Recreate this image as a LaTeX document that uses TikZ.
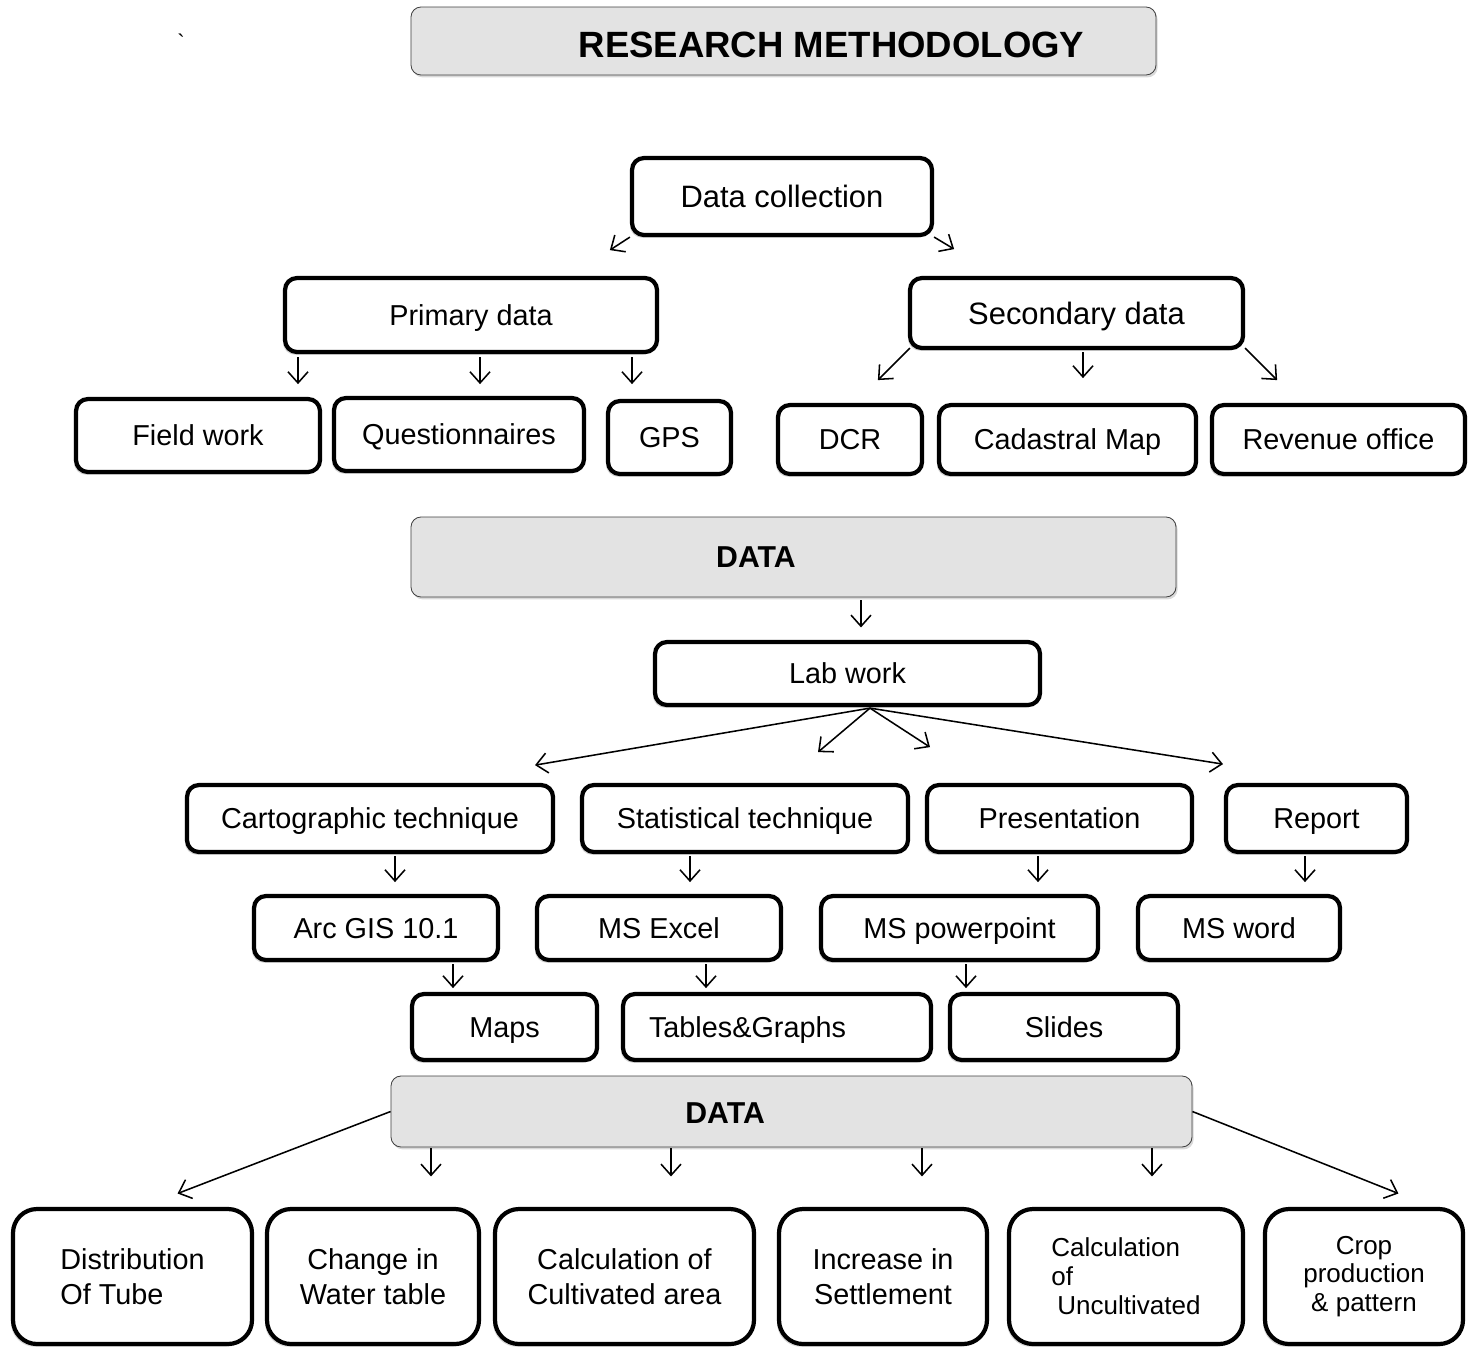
\documentclass[tikz,border=0pt]{standalone}
\usepackage{fontspec}
\setmainfont{Liberation Sans}
\usetikzlibrary{arrows.meta,positioning,calc,shadows}
\tikzset{
  alap/.style={draw,line width=3pt,rounded corners=3mm,fill=white,align=center,inner sep=0pt,
               font=\fontsize{20.5}{25}\selectfont,
               drop shadow={shadow xshift=-0.5mm,shadow yshift=-0.7mm,opacity=0.3}},
  doboz/.style={alap,text height=14.7pt,text depth=0pt},
  szurke/.style={draw=black!75,line width=0.6pt,rounded corners=2.5mm,fill=black!11,inner sep=0pt,
                 drop shadow={shadow xshift=0.4mm,shadow yshift=-0.6mm,opacity=0.3}},
  also/.style={alap,rounded corners=6mm,minimum width=#1,minimum height=33.75mm},
  felirat/.style={font=\bfseries\fontsize{21.5}{26}\selectfont},
  kisbetu/.style={font=\fontsize{18.5}{20.5}\selectfont},
  nyil/.style={-{Straight Barb[length=2.8mm,width=5mm]},line width=1.1pt},
}
\begin{document}
\begin{tikzpicture}[x=0.25mm,y=-0.25mm]
  \useasboundingbox (0,0) rectangle (1476,1346);
  % title
  \node[font=\fontsize{16}{18}\selectfont] (jel) at (181,42) {\textasciigrave};
  \node[szurke,minimum width=186.25mm,minimum height=17mm,
        label={[font=\bfseries\fontsize{26}{30}\selectfont,xshift=12mm,yshift=-1mm]center:RESEARCH METHODOLOGY}]
        (cim) at (783.5,41) {};

  % data collection
  \node[doboz,minimum width=75mm,minimum height=19.25mm,font=\fontsize{22}{26}\selectfont,text height=15.8pt] (dc) at (782,196.5) {Data collection};
  \node[doboz,minimum width=93mm,minimum height=18.5mm] (pd) at (471,315) {Primary data};
  \node[doboz,minimum width=83.25mm,minimum height=17.5mm,font=\fontsize{22}{26}\selectfont,text height=15.8pt] (sd) at (1076.5,313) {Secondary data};
  \draw[nyil] (dc.south west) -- ++(-20,13);
  \draw[nyil] (dc.south east) -- ++(20,12);

  \node[doboz,minimum width=61mm,minimum height=18.25mm] (fw) at (198,435.5) {Field work};
  \node[doboz,minimum width=62.5mm,minimum height=18.25mm] (qu) at (459,434.5) {Questionnaires};
  \node[doboz,minimum width=30.75mm,minimum height=18.25mm] (gps) at (669.5,437.5) {GPS};
  \node[doboz,minimum width=36mm,minimum height=17.25mm] (dcr) at (850,439.5) {DCR};
  \node[doboz,minimum width=64.25mm,minimum height=17.25mm] (cm) at (1067.5,439.5) {Cadastral Map};
  \node[doboz,minimum width=63.25mm,minimum height=17.25mm] (ro) at (1338.5,439.5) {Revenue office};
  \draw[nyil] ($(pd.south)+(-173,3)$) -- ++(0,27);
  \draw[nyil] ($(pd.south)+(9,3)$) -- ++(0,27);
  \draw[nyil] ($(pd.south)+(161,3)$) -- ++(0,27);
  \draw[nyil] ($(sd.south west)+(2,-2)$) -- ++(-32,32);
  \draw[nyil] ($(sd.south)+(6.5,2)$) -- ++(0,26);
  \draw[nyil] ($(sd.south east)+(0,-2)$) -- ++(32,32);

  % data, lab work
  \node[szurke,minimum width=191.25mm,minimum height=20mm,
        label={[felirat,xshift=-9.4mm]center:DATA}] (d1) at (793.5,557) {};
  \node[doboz,minimum width=96.25mm,minimum height=15.75mm] (lw) at (847.5,673.5) {Lab work};
  \draw[nyil] ($(d1.south)+(67.5,3)$) -- ++(0,27);
  \coordinate (hub) at ($(lw.south)+(22.5,1)$);
  \draw[nyil] (hub) -- ++(-335,57);
  \draw[nyil] (hub) -- ++(-52,44);
  \draw[nyil] (hub) -- ++(60,39);
  \draw[nyil] (hub) -- ++(353,56);

  \node[doboz,minimum width=91.5mm,minimum height=16.75mm] (ct) at (370,818.5) {Cartographic technique};
  \node[doboz,minimum width=81.5mm,minimum height=16.75mm] (st) at (745,818.5) {Statistical technique};
  \node[doboz,minimum width=66.25mm,minimum height=16.75mm] (pr) at (1059.5,818.5) {Presentation};
  \node[doboz,minimum width=45.25mm,minimum height=16.75mm] (rp) at (1316.5,818.5) {Report};
  \draw[nyil] ($(ct.south)+(25,2)$) -- ++(0,26);
  \draw[nyil] ($(st.south)+(-55,2)$) -- ++(0,26);
  \draw[nyil] ($(pr.south)+(-21.5,2)$) -- ++(0,26);
  \draw[nyil] ($(rp.south)+(-11.5,2)$) -- ++(0,26);

  \node[doboz,minimum width=61mm,minimum height=16mm] (gis) at (376,928) {Arc GIS 10.1};
  \node[doboz,minimum width=61mm,minimum height=16mm] (xl) at (659,928) {MS Excel};
  \node[doboz,minimum width=69.25mm,minimum height=16mm] (pp) at (959.5,928) {MS powerpoint};
  \node[doboz,minimum width=50.5mm,minimum height=16mm] (wd) at (1239,928) {MS word};
  \draw[nyil] ($(gis.south)+(77,2)$) -- ++(0,24);
  \draw[nyil] ($(xl.south)+(47,2)$) -- ++(0,24);
  \draw[nyil] ($(pp.south)+(6.5,2)$) -- ++(0,24);

  \node[doboz,minimum width=46.25mm,minimum height=16.5mm] (mp) at (504.5,1027) {Maps};
  \node[doboz,minimum width=77mm,minimum height=16.5mm,text width=64mm,align=left] (tg) at (777,1027) {Tables\&Graphs};
  \node[doboz,minimum width=57mm,minimum height=16.5mm] (sl) at (1064,1027) {Slides};

  % results
  \node[szurke,minimum width=200.25mm,minimum height=17.75mm,
        label={[felirat,xshift=-16.6mm,yshift=-0.4mm]center:DATA}] (d2) at (791.5,1111.5) {};
  \draw[nyil] (d2.west) -- ++(-213,82);
  \draw[nyil] (d2.east) -- ++(206,82);
  \draw[nyil] ($(d2.south)+(-360.5,1)$) -- ++(0,28);
  \draw[nyil] ($(d2.south)+(-120.5,1)$) -- ++(0,28);
  \draw[nyil] ($(d2.south)+(130.5,1)$) -- ++(0,28);
  \draw[nyil] ($(d2.south)+(360.5,1)$) -- ++(0,28);

  \node[also=59.75mm,align=left] (e1) at (132.5,1276.5) {Distribution\\Of Tube};
  \node[also=53mm] (e2) at (373,1276.5) {Change in\\Water table};
  \node[also=64.75mm] (e3) at (624.5,1276.5) {Calculation of\\Cultivated area};
  \node[also=52mm] (e4) at (883,1276.5) {Increase in\\Settlement};
  \node[also=58.5mm,kisbetu,align=left] (e5) at (1126,1276.5) {Calculation\\of\\\hspace*{1.5mm}Uncultivated};
  \node[also=49.5mm,kisbetu] (e6) at (1364,1276.5) {Crop\\production\\\& pattern};
\end{tikzpicture}
\end{document}
